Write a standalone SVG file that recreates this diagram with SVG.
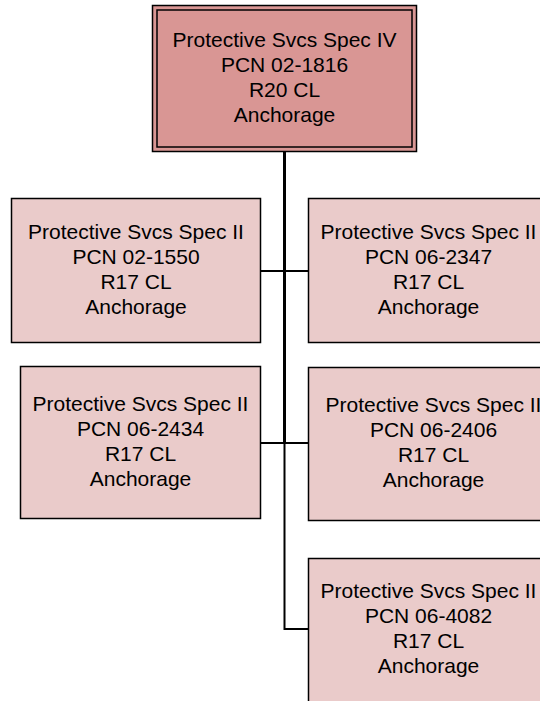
<svg xmlns="http://www.w3.org/2000/svg" width="540" height="701" viewBox="0 0 540 701">
<style>
.box{fill:#EACBCA;stroke:#000;stroke-width:1.5}
.top{fill:#D99694;stroke:#000;stroke-width:1.5}
.inner{fill:none;stroke:#000;stroke-width:1.5}
.t{font-family:"Liberation Sans",Arial,sans-serif;font-size:21px;fill:#000;text-anchor:middle}
.c{fill:none;stroke:#000;stroke-width:2}
</style>
<rect width="540" height="701" fill="#fff"/>
<g id="connectors">
<line class="c" x1="284.5" y1="151" x2="284.5" y2="443" style="stroke-width:3"/>
<polyline class="c" points="284.5,443 284.5,629 308,629"/>
<line class="c" x1="261" y1="271" x2="308" y2="271"/>
<line class="c" x1="261" y1="443" x2="308" y2="443"/>
</g>
<g id="n0">
<rect class="top" x="152.5" y="5.5" width="264" height="146"/>
<rect class="inner" x="157" y="10" width="255" height="137"/>
<text class="t" x="284.5" y="46.5">Protective Svcs Spec IV</text>
<text class="t" x="284.5" y="71.5">PCN 02-1816</text>
<text class="t" x="284.5" y="96.5">R20 CL</text>
<text class="t" x="284.5" y="121.5">Anchorage</text>
</g>
<g id="n1">
<rect class="box" x="11.5" y="198.5" width="249" height="144"/>
<text class="t" x="136" y="238.5">Protective Svcs Spec II</text>
<text class="t" x="136" y="263.5">PCN 02-1550</text>
<text class="t" x="136" y="288.5">R17 CL</text>
<text class="t" x="136" y="313.5">Anchorage</text>
</g>
<g id="n2">
<rect class="box" x="308.5" y="198.5" width="240" height="144"/>
<text class="t" x="428.5" y="238.5">Protective Svcs Spec II</text>
<text class="t" x="428.5" y="263.5">PCN 06-2347</text>
<text class="t" x="428.5" y="288.5">R17 CL</text>
<text class="t" x="428.5" y="313.5">Anchorage</text>
</g>
<g id="n3">
<rect class="box" x="20.5" y="366.5" width="240" height="152"/>
<text class="t" x="140.5" y="411">Protective Svcs Spec II</text>
<text class="t" x="140.5" y="436">PCN 06-2434</text>
<text class="t" x="140.5" y="461">R17 CL</text>
<text class="t" x="140.5" y="486">Anchorage</text>
</g>
<g id="n4">
<rect class="box" x="308.5" y="367.5" width="250" height="153"/>
<text class="t" x="433.5" y="412">Protective Svcs Spec II</text>
<text class="t" x="433.5" y="437">PCN 06-2406</text>
<text class="t" x="433.5" y="462">R17 CL</text>
<text class="t" x="433.5" y="487">Anchorage</text>
</g>
<g id="n5">
<rect class="box" x="308.5" y="558.5" width="240" height="146"/>
<text class="t" x="428.5" y="598">Protective Svcs Spec II</text>
<text class="t" x="428.5" y="623">PCN 06-4082</text>
<text class="t" x="428.5" y="648">R17 CL</text>
<text class="t" x="428.5" y="673">Anchorage</text>
</g>
</svg>
